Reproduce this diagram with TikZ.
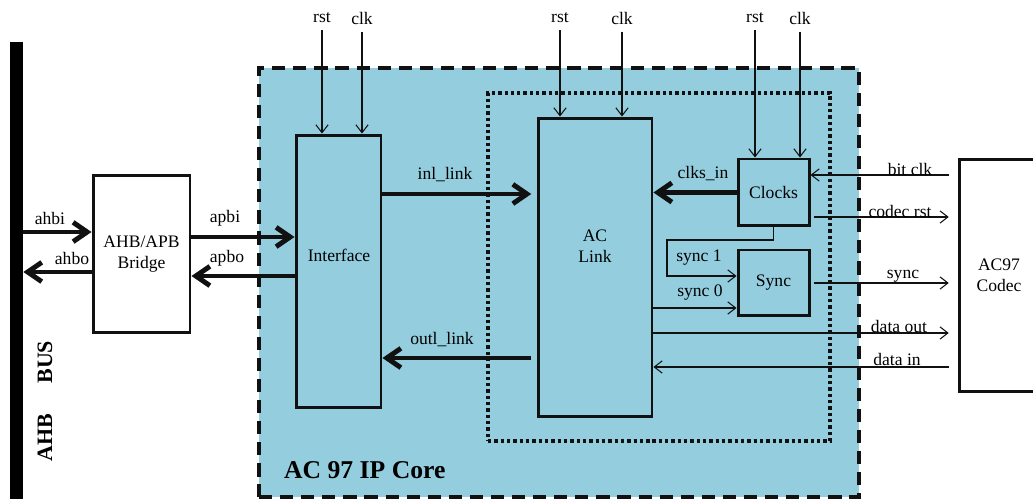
\documentclass[tikz,border=0pt]{standalone}
\usepackage{fontspec}
\setmainfont{Liberation Serif}
\usetikzlibrary{arrows.meta,positioning,calc}
\definecolor{ACCoreBlue}{HTML}{93CDDE}
\definecolor{ACInk}     {HTML}{111111}

\begin{document}
\begin{tikzpicture}[x=0.02cm,y=-0.02cm,
    font=\fontsize{10}{12}\selectfont,
    blk/.style={draw=ACInk,line width=1.7pt,inner sep=0pt,align=center},
    thk/.style={ACInk,line width=2.8pt,-{Straight Barb[length=8pt,width=11pt]}},
    thn/.style={ACInk,line width=0.6pt,-{Straight Barb[length=4.5pt,width=7pt]}},
    sig/.style={inner sep=1pt}]
    \useasboundingbox[fill=white] (0,0) rectangle (1033,499);
    % IP core and link region
    \node[draw=ACInk,line width=2.3pt,dash pattern=on 7.5pt off 4.5pt,fill=ACCoreBlue,
      minimum width=12cm,minimum height=8.58cm,inner sep=0pt] (core) at (559,282.5) {};
    \node[draw=ACInk,line width=1.9pt,dash pattern=on 1.9pt off 1.7pt,
      minimum width=6.84cm,minimum height=6.96cm,inner sep=0pt] (linkzone) at (659,267) {};
    \node[font=\fontsize{14.6}{16}\selectfont\bfseries,anchor=west] (corelbl) at (278,470) {AC 97 IP Core};
    % AHB bus
    \node[fill=black,minimum width=0.26cm,minimum height=9.14cm,inner sep=0pt] (ahb) at (16.5,270.5) {};
    \node[font=\fontsize{12.5}{14}\selectfont\bfseries,rotate=90] (ahblbl) at (45,401) {AHB\hspace{17pt}BUS};
    % blocks
    \node[blk,minimum width=1.94cm,minimum height=3.16cm] (bridge) at (141.5,254) {AHB/APB\\Bridge};
    \node[blk,minimum width=1.7cm,minimum height=5.46cm] (intf) at (338.5,271.5) {};
    \node (intflbl) at (339,255) {Interface};
    \node[blk,minimum width=2.28cm,minimum height=5.98cm] (aclink) at (595,267.5) {};
    \node[align=center] (aclinklbl) at (595,246) {AC\\Link};
    \node[blk,minimum width=1.42cm,minimum height=1.34cm] (clocks) at (773.5,192.5) {Clocks};
    \node[blk,minimum width=1.42cm,minimum height=1.32cm] (sync) at (773.5,283) {Sync};
    \node[blk,minimum width=1.6cm,minimum height=4.66cm] (codec) at (999,275.5) {AC97\\Codec};
    % rst / clk inputs
    \foreach \nm/\txt/\x/\tgt in {irst/rst/322/intf, iclk/clk/362/intf,
      lrst/rst/560/aclink, lclk/clk/622/aclink, crst/rst/755/clocks, cclk/clk/800/clocks}{
      \node[sig] (\nm) at (\x,18) {\txt};
      \draw[thn,shorten <=3pt] (\nm.south) -- (\nm.south |- \tgt.north);
    }
    % AHB side
    \coordinate (ahbiP) at ($(bridge.west)+(0,-22)$);
    \draw[thk] (ahbiP -| ahb.east) -- (ahbiP);
    \node (ahbilbl) at (50,218) {ahbi};
    \coordinate (ahboP) at ($(bridge.west)+(0,18)$);
    \draw[thk] (ahboP) -- (ahboP -| ahb.east);
    \node (ahbolbl) at (72,258) {ahbo};
    \coordinate (apbiP) at ($(bridge.east)+(0,-17)$);
    \draw[thk] (apbiP) -- (apbiP -| intf.west);
    \node (apbilbl) at (225,218) {apbi};
    \coordinate (apboP) at ($(bridge.east)+(0,22)$);
    \draw[thk] (apboP -| intf.west) -- (apboP);
    \node (apbolbl) at (227,258) {apbo};
    % interface <-> link
    \coordinate (inlP) at ($(intf.east)+(0,-77.5)$);
    \draw[thk,shorten >=3pt] (inlP) -- (inlP -| aclink.west);
    \node (inllbl) at (445,175) {inl\_link};
    \coordinate (outlP) at ($(intf.east)+(0,86.5)$);
    \draw[thk,shorten <=3pt] (outlP -| aclink.west) -- (outlP);
    \node (outllbl) at (442,340) {outl\_link};
    % clocks and sync
    \draw[thk] (clocks.west) -- (clocks.west -| aclink.east);
    \node (clkinlbl) at (703,174) {clks\_in};
    \coordinate (s1bend) at (667,240);
    \draw[thn] (clocks.south) |- (s1bend) |- ($(sync.west)+(0,-7)$);
    \node (s1lbl) at (699,258) {sync 1};
    \coordinate (s0P) at ($(sync.west)+(0,25)$);
    \draw[thn] (s0P -| aclink.east) -- (s0P);
    \node (s0lbl) at (700,293) {sync 0};
    % codec side
    \coordinate (bclkP) at ($(clocks.east)+(0,-17.5)$);
    \draw[thn,shorten <=5pt] (bclkP -| codec.west) -- (bclkP);
    \coordinate (crstP) at ($(clocks.east)+(0,24.5)$);
    \draw[thn,shorten <=2pt,shorten >=5pt] (crstP) -- (crstP -| codec.west);
    \draw[thn,shorten <=2pt,shorten >=5pt] (sync.east) -- (sync.east -| codec.west);
    \coordinate (doutP) at ($(aclink.east)+(0,65.5)$);
    \draw[thn,shorten >=5pt] (doutP) -- (doutP -| codec.west);
    \coordinate (dinP) at ($(aclink.east)+(0,99.5)$);
    \draw[thn,shorten <=5pt] (dinP -| codec.west) -- (dinP);
    \foreach \nm/\txt/\x/\y in {bclklbl/bit clk/910/169, crstlbl/codec rst/900/211,
      synclbl/sync/903/276, doutlbl/data out/899/326, dinlbl/data in/897/359}{
      \node (\nm) at (\x,\y) {\txt};
    }
\end{tikzpicture}
\end{document}
